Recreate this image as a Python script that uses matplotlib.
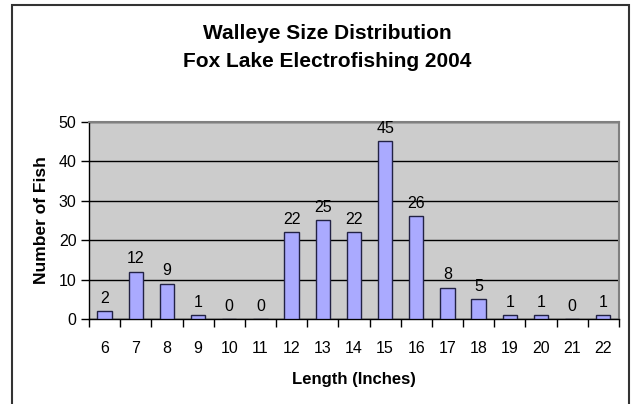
import numpy as np
import matplotlib.pyplot as plt
from matplotlib.patches import Rectangle

plt.rcParams['font.family'] = ['Liberation Sans', 'DejaVu Sans']

lengths = ['6', '7', '8', '9', '10', '11', '12', '13', '14', '15', '16',
           '17', '18', '19', '20', '21', '22']
counts = [2, 12, 9, 1, 0, 0, 22, 25, 22, 45, 26, 8, 5, 1, 1, 0, 1]
y_ticks = [0, 10, 20, 30, 40, 50]

fig = plt.figure(figsize=(6.36, 4.04), dpi=100)
ax = fig.add_axes([0.140, 0.210, 0.833, 0.489])

x = np.arange(len(lengths))
ax.set_facecolor('#CCCCCC')
bars = ax.bar(x, counts, width=0.46, color='#AAAAFF', edgecolor='#222244',
              linewidth=1.0, zorder=3)

# Value labels above bars
for xi, v in zip(x, counts):
	ax.annotate(str(v), (xi, v), xytext=(0, 4), textcoords='offset points',
	            ha='center', va='bottom', fontsize=11.5, zorder=4)

# Axes limits and ticks
ax.set_xlim(-0.5, len(lengths) - 0.5)
ax.set_ylim(0, 50)
ax.set_yticks(y_ticks)
ax.set_xticks(x)
ax.set_xticklabels(lengths)
ax.set_xticks(np.arange(-0.5, len(lengths)), minor=True)
ax.tick_params(axis='x', which='major', length=0, pad=16, labelsize=11.5)
ax.tick_params(axis='x', which='minor', length=6, width=1, color='black', direction='out')
ax.tick_params(axis='y', length=6, width=1, direction='out', labelsize=11.5, pad=3)

# Grid lines
ax.yaxis.grid(True, color='black', linewidth=1.0, zorder=1)
ax.set_axisbelow(True)

for side in ['left', 'bottom']:
	ax.spines[side].set_color('black')
	ax.spines[side].set_linewidth(1.0)
for side in ['top', 'right']:
	ax.spines[side].set_color('#808080')
	ax.spines[side].set_linewidth(1.5)

# Labels
ax.set_xlabel('Length (Inches)', fontsize=12, fontweight='bold', labelpad=11)
ax.set_ylabel('Number of Fish', fontsize=12.5, fontweight='bold', labelpad=7)
fig.text(0.515, 0.918, 'Walleye Size Distribution', ha='center', va='center',
         fontsize=15, fontweight='bold')
fig.text(0.515, 0.847, 'Fox Lake Electrofishing 2004', ha='center', va='center',
         fontsize=15, fontweight='bold')

# Chart border
fig.patches.append(Rectangle((0.019, -0.02), 0.970, 1.008, transform=fig.transFigure,
                             fill=False, edgecolor='#333333', linewidth=1.5))

plt.savefig('out.png', dpi=100)
